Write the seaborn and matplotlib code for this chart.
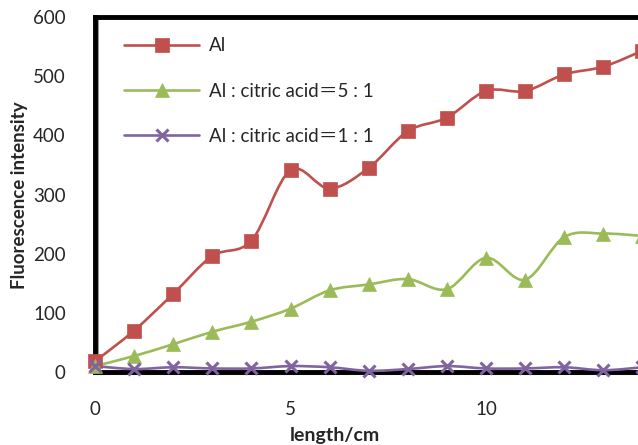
import numpy as np
import pandas as pd
import matplotlib
matplotlib.use("Agg")
import matplotlib.pyplot as plt
import seaborn as sns
from matplotlib.path import Path
from matplotlib.patches import PathPatch
from matplotlib.lines import Line2D

length = [0, 1, 2, 3, 4, 5, 6, 7, 8, 9, 10, 11, 12, 13, 14]
al = [18, 70, 132, 196, 222, 341, 310, 345, 407, 430, 475, 475, 503, 516, 543]
al_51 = [10, 27, 47, 68, 85, 107, 138, 148, 157, 140, 193, 156, 228, 234, 230]
al_11 = [10, 5, 8, 6, 6, 10, 8, 2, 5, 10, 6, 6, 8, 3, 8]
series_names = ["Al", "Al : citric acid\uff1d5 : 1", "Al : citric acid\uff1d1 : 1"]
colors = ["#C0504D", "#9BBB59", "#8064A2"]
markers = ["s", "^", "x"]
yticks = [0, 100, 200, 300, 400, 500, 600]
xticks = [0, 5, 10]

sns.set_style("white")
plt.rcParams["font.family"] = ["Lato", "Noto Sans CJK SC", "DejaVu Sans"]

fig = plt.figure(figsize=(6.38, 4.45), dpi=100)
W, H = 638, 445
x0, y0, y1 = 95, 372, 17
pxu = 39.1
xmax = 16
ax = fig.add_axes([x0 / W, (H - y0) / H, xmax * pxu / W, (y0 - y1) / H])


def smooth_path(xs, ys):
    P = np.column_stack([xs, ys]).astype(float)
    n = len(P)
    verts = [P[0]]
    codes = [Path.MOVETO]
    for i in range(n - 1):
        pm = P[i - 1] if i > 0 else P[i]
        pp = P[i + 2] if i + 2 < n else P[i + 1]
        c1 = P[i] + (P[i + 1] - pm) / 6.0
        c2 = P[i + 1] - (pp - P[i]) / 6.0
        verts += [c1, c2, P[i + 1]]
        codes += [Path.CURVE4] * 3
    return Path(verts, codes)


all_vals = [al, al_51, al_11]
msizes = [9.5, 9.5, 8]
handles = []
for vals, name, c, m, ms in zip(all_vals, series_names, colors, markers, msizes):
    patch = PathPatch(smooth_path(length, vals), facecolor="none", edgecolor=c,
                      lw=1.9, transform=ax.transData, clip_on=False, zorder=3)
    ax.add_patch(patch)
    df = pd.DataFrame({"x": length, "y": vals})
    sns.lineplot(data=df, x="x", y="y", ax=ax, lw=0, marker=m, markersize=ms,
                 color=c, markeredgecolor=c, markeredgewidth=2.2 if m == "x" else 0.5,
                 legend=False, zorder=4, clip_on=False)
    handles.append(Line2D([], [], color=c, lw=1.9, marker=m, markersize=ms,
                          markeredgecolor=c, markeredgewidth=2.2 if m == "x" else 0.5))

ax.set_xlim(0, xmax)
ax.set_ylim(0, 600)
ax.set_xticks(xticks)
ax.set_yticks(yticks)
ax.set_xlabel("")
ax.set_ylabel("")
ax.tick_params(axis="y", direction="in", length=5, width=1.5, color="#888888",
               labelsize=13.5, pad=21)
ax.tick_params(axis="x", length=0, labelsize=13.5, pad=21)
for s in ["left", "top", "bottom", "right"]:
    ax.spines[s].set_color("black")
    ax.spines[s].set_linewidth(3.5)
    ax.spines[s].set_zorder(2)
# light grey shadow along the axes, as in the reference
ax.axvline(0.07, color="#999999", lw=1.5, zorder=1.9)
ax.axhline(-4, color="#999999", lw=1.5, zorder=1.9, clip_on=False)

leg = ax.legend(handles=handles, labels=series_names, loc="upper left",
                bbox_to_anchor=(0.02, 0.99), frameon=False, fontsize=13.5,
                handlelength=4.0, handletextpad=0.5, labelspacing=1.5)

fig.text(20 / W, 1 - 195 / H, "Fluorescence intensity", rotation=90, ha="center",
         va="center", fontsize=13.5, fontweight="bold")
fig.text(335 / W, 1 - 435 / H, "length/cm", ha="center", va="center",
         fontsize=14, fontweight="bold")

fig.savefig("out.png", dpi=100)
